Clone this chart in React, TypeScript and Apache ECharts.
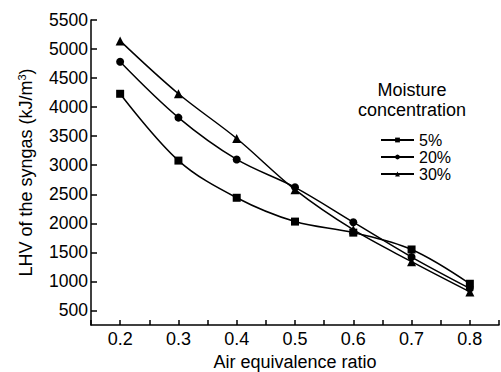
import React, { useEffect, useRef } from "react";
import * as echarts from "echarts";

const xValues = [0.2, 0.3, 0.4, 0.5, 0.6, 0.7, 0.8];
const s5 = [4230, 3080, 2440, 2030, 1840, 1550, 960];
const s20 = [4780, 3820, 3100, 2620, 2020, 1420, 880];
const s30 = [5140, 4230, 3460, 2580, 1890, 1340, 820];
const seriesNames = ["5%", "20%", "30%"];
const yTickValues = [500, 1000, 1500, 2000, 2500, 3000, 3500, 4000, 4500, 5000, 5500];
const xTickValues = [0.2, 0.3, 0.4, 0.5, 0.6, 0.7, 0.8];

const FONT = "'Liberation Sans', Arial, sans-serif";

export default function App() {
  const ref = useRef<HTMLDivElement>(null);
  useEffect(() => {
    if (!ref.current) return;
    const chart = echarts.init(ref.current, null, { renderer: "svg" });
    const mk = (name: string, vals: number[], symbol: string, size: number) => ({
      name,
      type: "line",
      data: xValues.map((x, i) => [x, vals[i]]),
      smooth: 0.35,
      symbol,
      symbolSize: size,
      itemStyle: { color: "#000" },
      lineStyle: { color: "#000", width: 1.5 },
    });
    chart.setOption({
      animation: false,
      backgroundColor: "#fff",
      textStyle: { fontFamily: FONT },
      grid: { left: 91, right: 2, top: 20, bottom: 47, containLabel: false, outerBoundsMode: "none" },
      xAxis: {
        type: "value",
        min: 0.15,
        max: 0.85,
        interval: 0.05,
        name: "Air equivalence ratio",
        nameLocation: "middle",
        nameGap: 27,
        nameTextStyle: { fontSize: 18, color: "#000", fontFamily: FONT },
        axisLine: { show: true, lineStyle: { color: "#000", width: 1.5 } },
        axisTick: { show: true, inside: true, length: 5, lineStyle: { color: "#000", width: 1.5 } },
        axisLabel: {
          show: true,
          margin: 5,
          fontSize: 18,
          color: "#000",
          fontFamily: FONT,
          customValues: xTickValues,
          formatter: (v: number) => v.toFixed(1),
        },
        splitLine: { show: false },
      },
      yAxis: {
        type: "value",
        min: 250,
        max: 5500,
        name: "LHV of the syngas (kJ/m{sup|3})",
        nameLocation: "middle",
        nameGap: 55,
        nameTextStyle: {
          fontSize: 18,
          color: "#000",
          fontFamily: FONT,
          rich: { sup: { fontSize: 11, color: "#000", fontFamily: FONT, padding: [0, 0, 9, 0] } },
        },
        axisLine: { show: true, lineStyle: { color: "#000", width: 1.5 } },
        axisTick: { show: true, inside: true, length: 6, customValues: yTickValues, lineStyle: { color: "#000", width: 1.5 } },
        axisLabel: {
          show: true,
          margin: 3,
          fontSize: 17.5,
          color: "#000",
          fontFamily: FONT,
          customValues: yTickValues,
          formatter: (v: number) => String(Math.round(v)),
        },
        splitLine: { show: false },
      },
      legend: {
        orient: "vertical",
        left: 380,
        top: 132,
        itemWidth: 33,
        itemHeight: 6,
        itemGap: 1,
        padding: 0,
        textStyle: { fontSize: 16, color: "#000", fontFamily: FONT, lineHeight: 16 },
        data: seriesNames,
      },
      graphic: [
        {
          type: "text",
          x: 412,
          y: 80,
          style: {
            text: "Moisture\nconcentration",
            font: `18px ${FONT}`,
            fill: "#000",
            lineHeight: 20,
            textAlign: "center",
          },
        },
      ],
      series: [
        mk(seriesNames[0], s5, "rect", 8),
        mk(seriesNames[1], s20, "circle", 8),
        mk(seriesNames[2], s30, "triangle", 9),
      ],
    });
    return () => chart.dispose();
  }, []);
  return <div ref={ref} style={{ position: "fixed", left: 0, top: 0, width: 501, height: 372 }} />;
}
